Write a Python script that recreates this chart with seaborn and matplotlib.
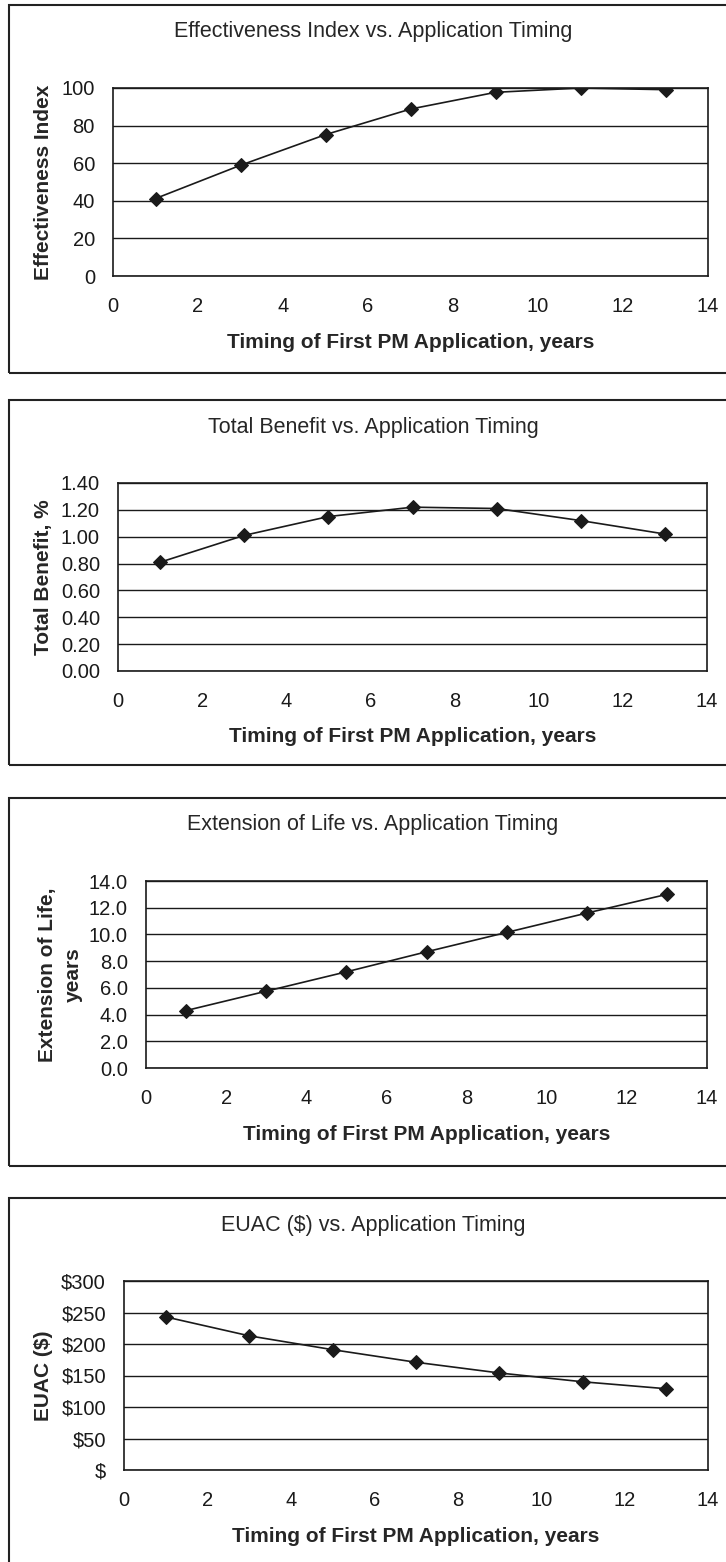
import numpy as np
import pandas as pd
import seaborn as sns
import matplotlib.pyplot as plt
from matplotlib.patches import Rectangle
from matplotlib.ticker import FuncFormatter

# Data
timing = [1, 3, 5, 7, 9, 11, 13]
effectiveness = [41.2, 58.9, 75.2, 88.8, 97.7, 100.0, 99.1]
total_benefit = [0.81, 1.01, 1.15, 1.22, 1.21, 1.12, 1.02]
life_extension = [4.3, 5.75, 7.2, 8.7, 10.15, 11.6, 13.0]
euac = [243, 213, 191, 171, 154, 140, 129]

titles = ['Effectiveness Index vs. Application Timing',
          'Total Benefit vs. Application Timing',
          'Extension of Life vs. Application Timing',
          'EUAC ($) vs. Application Timing']
ylabels = ['Effectiveness Index', 'Total Benefit, %',
           'Extension of Life,\nyears', 'EUAC ($)']
xlabel = 'Timing of First PM Application, years'

sns.set_style('white')
plt.rcParams['font.family'] = ['Liberation Sans', 'DejaVu Sans']

W, H = 726, 1562
fig = plt.figure(figsize=(W / 100, H / 100), dpi=100)

# pixel layout: box (top, bottom), axes (left, right, top, bottom), title y, ylabel x
panels = [
    dict(box=(5, 373), ax=(113, 708, 88, 276), title_y=32, ylab_x=53,
         y=effectiveness, ylim=(0, 100), yticks=np.arange(0, 101, 20),
         fmt=lambda v, p: f'{v:.0f}'),
    dict(box=(400, 765), ax=(118, 707, 483, 671), title_y=428, ylab_x=53,
         y=total_benefit, ylim=(0, 1.4), yticks=np.arange(0, 1.41, 0.2),
         fmt=lambda v, p: f'{v:.2f}'),
    dict(box=(798, 1166), ax=(146, 707, 881, 1068), title_y=825, ylab_x=83,
         y=life_extension, ylim=(0, 14), yticks=np.arange(0, 14.1, 2),
         fmt=lambda v, p: f'{v:.1f}'),
    dict(box=(1198, 1600), ax=(124, 708, 1281, 1470), title_y=1225, ylab_x=53,
         y=euac, ylim=(0, 300), yticks=np.arange(0, 301, 50),
         fmt=lambda v, p: '$' if v == 0 else f'${v:.0f}'),
]

for i, p in enumerate(panels):
    bt, bb = p['box']
    fig.patches.append(Rectangle((9 / W, 1 - bb / H), 1.0, (bb - bt) / H,
                                 transform=fig.transFigure, fill=False,
                                 edgecolor='#222222', linewidth=1.5))
    l, r, t, b = p['ax']
    ax = fig.add_axes([l / W, 1 - b / H, (r - l) / W, (b - t) / H])
    df = pd.DataFrame({'x': timing, 'y': p['y']})
    sns.lineplot(data=df, x='x', y='y', ax=ax, color='#1a1a1a', linewidth=1.2,
                 marker='D', markersize=7.5, markeredgecolor='#1a1a1a')
    ax.set_xlim(0, 14)
    ax.set_xticks(range(0, 15, 2))
    ax.set_ylim(*p['ylim'])
    ax.set_yticks(p['yticks'])
    ax.yaxis.set_major_formatter(FuncFormatter(p['fmt']))
    ax.grid(axis='y', color='#1a1a1a', linewidth=1.0)
    ax.set_axisbelow(True)
    for s in ax.spines.values():
        s.set_color('#1a1a1a')
        s.set_linewidth(1.2)
    ax.tick_params(axis='both', direction='out', length=6, width=1,
                   colors='#1a1a1a', labelsize=14.5)
    ax.tick_params(axis='x', pad=9)
    ax.tick_params(axis='y', pad=7)
    ax.set_xlabel(xlabel, fontsize=15, fontweight='bold', labelpad=12)
    ax.set_ylabel(ylabels[i], fontsize=15, fontweight='bold', linespacing=1.45)
    ax.yaxis.set_label_coords((p['ylab_x'] - l) / (r - l), 0.5)
    fig.text(373 / W, 1 - p['title_y'] / H, titles[i], ha='center',
             va='center', fontsize=15.5)

fig.savefig('out.png', dpi=100, facecolor='white')
